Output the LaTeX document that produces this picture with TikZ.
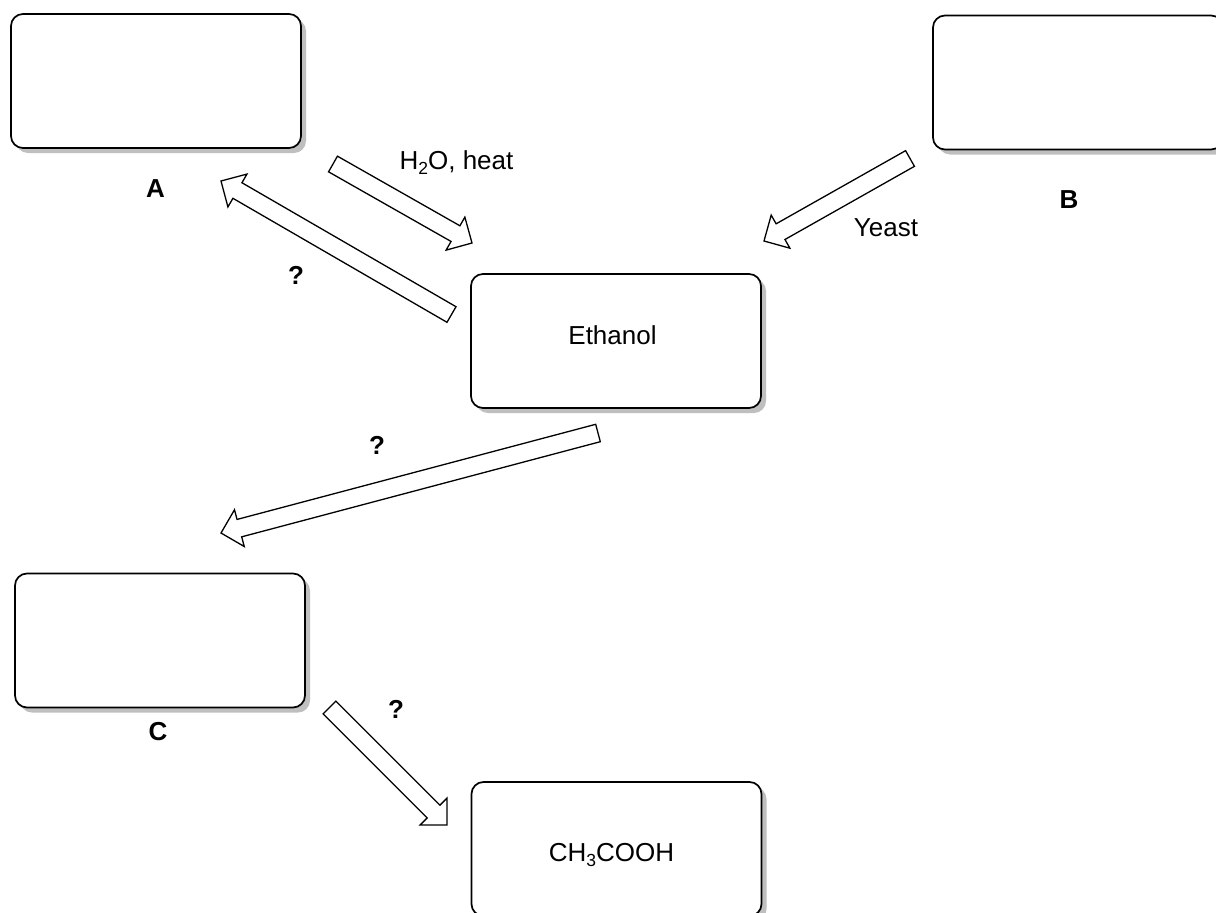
\documentclass[tikz,border=0pt]{standalone}
\usepackage{fontspec}
\setmainfont{Liberation Sans}
\usetikzlibrary{calc,shadows}
\newcommand\subtxt[1]{\raisebox{-0.22em}{\fontsize{17.5}{17.5}\selectfont #1}}
\newcommand\blockarrow[2]{%
  \coordinate (hb) at ($(#2)!19pt!(#1)$);
  \draw[barrow] ($(#1)!9pt!90:(#2)$) -- ($(hb)!9pt!90:(#2)$) -- ($(hb)!19pt!90:(#2)$)
    -- (#2) -- ($(hb)!19pt!-90:(#2)$) -- ($(hb)!9pt!-90:(#2)$) -- ($(#1)!9pt!-90:(#2)$) -- cycle;}
\begin{document}
\begin{tikzpicture}[x=1pt,y=-1pt,
  box/.style={draw=black,line width=1.7pt,rounded corners=12pt,fill=white,
    minimum width=290pt,minimum height=134pt,inner sep=0pt,
    drop shadow={shadow xshift=5pt,shadow yshift=-5pt,fill=black!25,opacity=1}},
  barrow/.style={draw=black,line width=1.3pt,fill=white,line join=miter},
  txt/.style={font=\fontsize{26}{31}\selectfont,anchor=base,inner sep=0pt},
  lbl/.style={txt,font=\fontsize{26}{31}\selectfont\bfseries}]
\useasboundingbox (0,0) rectangle (1216,913);
\clip (0,0) rectangle (1216,913);
\fill[white] (0,0) rectangle (1216,913);
% boxes
\node[box] (A) at (156,81) {};
\node[box] (B) at (1078,82.5) {};
\node[box] (eth) at (616,341) {};
\node[box] (C) at (160,640.5) {};
\node[box] (acid) at (616.5,849) {};
% texts
\node[txt] (ethtxt) at (612.5,344) {Ethanol};
\node[txt] (acidtxt) at (611.5,861) {CH\subtxt{3}COOH};
\node[lbl] (la) at (155.5,197) {A};
\node[lbl] (lb) at (1069,208) {B};
\node[lbl] (lc) at (158,740) {C};
\node[lbl] (q1) at (296,284) {?};
\node[lbl] (q2) at (377,454) {?};
\node[lbl] (q3) at (396,718) {?};
\node[txt] (heat) at (456.5,169) {H\subtxt{2}O, heat};
\node[txt] (yeast) at (886,236) {Yeast};
% arrows
\coordinate (t1) at (333,164);   \coordinate (p1) at (472,243);
\coordinate (t2) at (451.5,314.5); \coordinate (p2) at (221,181);
\coordinate (t3) at (910,158.5); \coordinate (p3) at (764,241);
\coordinate (t4) at (598,433);   \coordinate (p4) at (221,533);
\coordinate (t5) at (329.5,707.5); \coordinate (p5) at (447,825);
\blockarrow{t1}{p1}
\blockarrow{t2}{p2}
\blockarrow{t3}{p3}
\blockarrow{t4}{p4}
\blockarrow{t5}{p5}
\end{tikzpicture}
\end{document}
